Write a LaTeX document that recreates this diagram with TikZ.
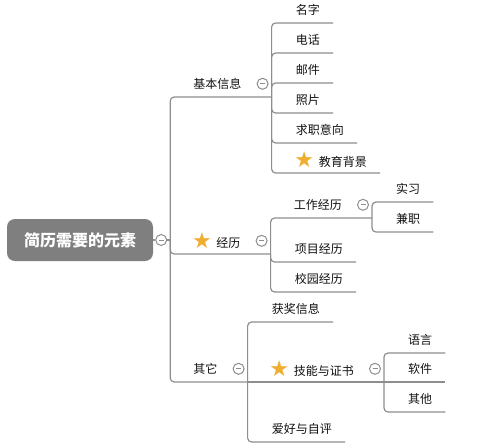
\documentclass[tikz,border=0pt]{standalone}
\usepackage{fontspec}
\setmainfont{Noto Sans CJK SC}
\newfontfamily\starfont{DejaVu Sans}
\definecolor{linegray}{HTML}{8E8E8E}
\definecolor{rootgray}{HTML}{7F7F7F}
\definecolor{textdark}{HTML}{111111}
\definecolor{stargold}{HTML}{F0AE30}
\newcommand\starmark{\makebox[17pt]{\raisebox{-1pt}{\starfont\fontsize{22}{22}\selectfont\color{stargold}★}}\hspace*{6pt}}
\tikzset{
  branch/.style={draw=linegray, line width=1.2pt, rounded corners=4pt},
  leaf/.style={anchor=south west, inner sep=0pt, minimum height=26pt, text=textdark,
    font=\fontsize{12}{14}\selectfont,
    execute at begin node=\hspace*{24pt}, execute at end node=\hspace*{13pt}},
  topic/.style={anchor=south west, inner sep=0pt, minimum height=26pt, text=textdark,
    font=\fontsize{12}{14}\selectfont,
    execute at begin node=\hspace*{23pt}, execute at end node=\hspace*{30pt}},
  rootbox/.style={rounded corners=8pt, fill=rootgray, text=white, inner sep=0pt,
    minimum width=146pt, minimum height=42pt, font=\fontsize{16}{18}\selectfont\bfseries},
  collapse/.style={circle, draw=linegray, line width=1pt, fill=white, minimum size=11pt, inner sep=0pt,
    path picture={\draw[linegray, line width=0.8pt] ([xshift=-2.5pt]path picture bounding box.center) -- ([xshift=2.5pt]path picture bounding box.center);}}
}
\begin{document}
\begin{tikzpicture}[x=1pt, y=-1pt]
  \useasboundingbox (0,0) rectangle (498,445);
  % root
  \node[rootbox] (root) at (80,240) {简历需要的元素};
  \node[collapse] (root-c) at ([xshift=8pt]root.east) {};
  \coordinate (hub) at ([xshift=9pt]root-c.center);
  \draw[branch] (root) -- (root-c) -- (hub);
  % main topics
  \node[topic] (info) at (hub |- 0,97) {基本信息};
  \node[topic] (exp) at (hub |- 0,254) {\starmark 经历};
  \node[topic] (other) at (hub |- 0,382) {其它};
  \foreach \n in {info,exp,other}
    \draw[branch] (hub) |- (\n.south east);
  % basic info
  \foreach \n/\y/\t in {name/23/名字, phone/53/电话, mail/83/邮件, photo/113/照片, goal/143/求职意向}
    \node[leaf] (\n) at (info.south east |- 0,\y) {\t};
  \node[leaf] (edu) at (info.south east |- 0,173) {\starmark 教育背景};
  \foreach \n in {name,phone,mail,photo,goal,edu}
    \draw[branch] (info.south east) |- (\n.south east);
  % experience
  \node[topic] (work) at (exp.south east |- 0,218) {工作经历};
  \node[leaf] (proj) at (exp.south east |- 0,262) {项目经历};
  \node[leaf] (camp) at (exp.south east |- 0,292) {校园经历};
  \foreach \n in {work,proj,camp}
    \draw[branch] (exp.south east) |- (\n.south east);
  \node[leaf] (intern) at (work.south east |- 0,202) {实习};
  \node[leaf] (part) at (work.south east |- 0,232) {兼职};
  \foreach \n in {intern,part}
    \draw[branch] (work.south east) |- (\n.south east);
  % others
  \node[leaf] (award) at (other.south east |- 0,322) {获奖信息};
  \node[topic] (skill) at (other.south east) {\starmark 技能与证书};
  \node[leaf] (hobby) at (other.south east |- 0,442) {爱好与自评};
  \draw[branch] (other.south east) |- (award.south east);
  \draw[branch] (other.south east) -- (skill.south east);
  \draw[branch] (other.south east) |- (hobby.south east);
  \node[leaf] (lang) at (skill.south east |- 0,353) {语言};
  \node[leaf] (soft) at (skill.south east) {软件};
  \node[leaf] (misc) at (skill.south east |- 0,412) {其他};
  \draw[branch] (skill.south east) |- (lang.south east);
  \draw[branch] (skill.south east) -- (soft.south east);
  \draw[branch] (skill.south east) |- (misc.south east);
  % collapse marks
  \foreach \n in {info,exp,other,work,skill}
    \node[collapse] (\n-c) at ([xshift=-9pt]\n.east) {};
\end{tikzpicture}
\end{document}
